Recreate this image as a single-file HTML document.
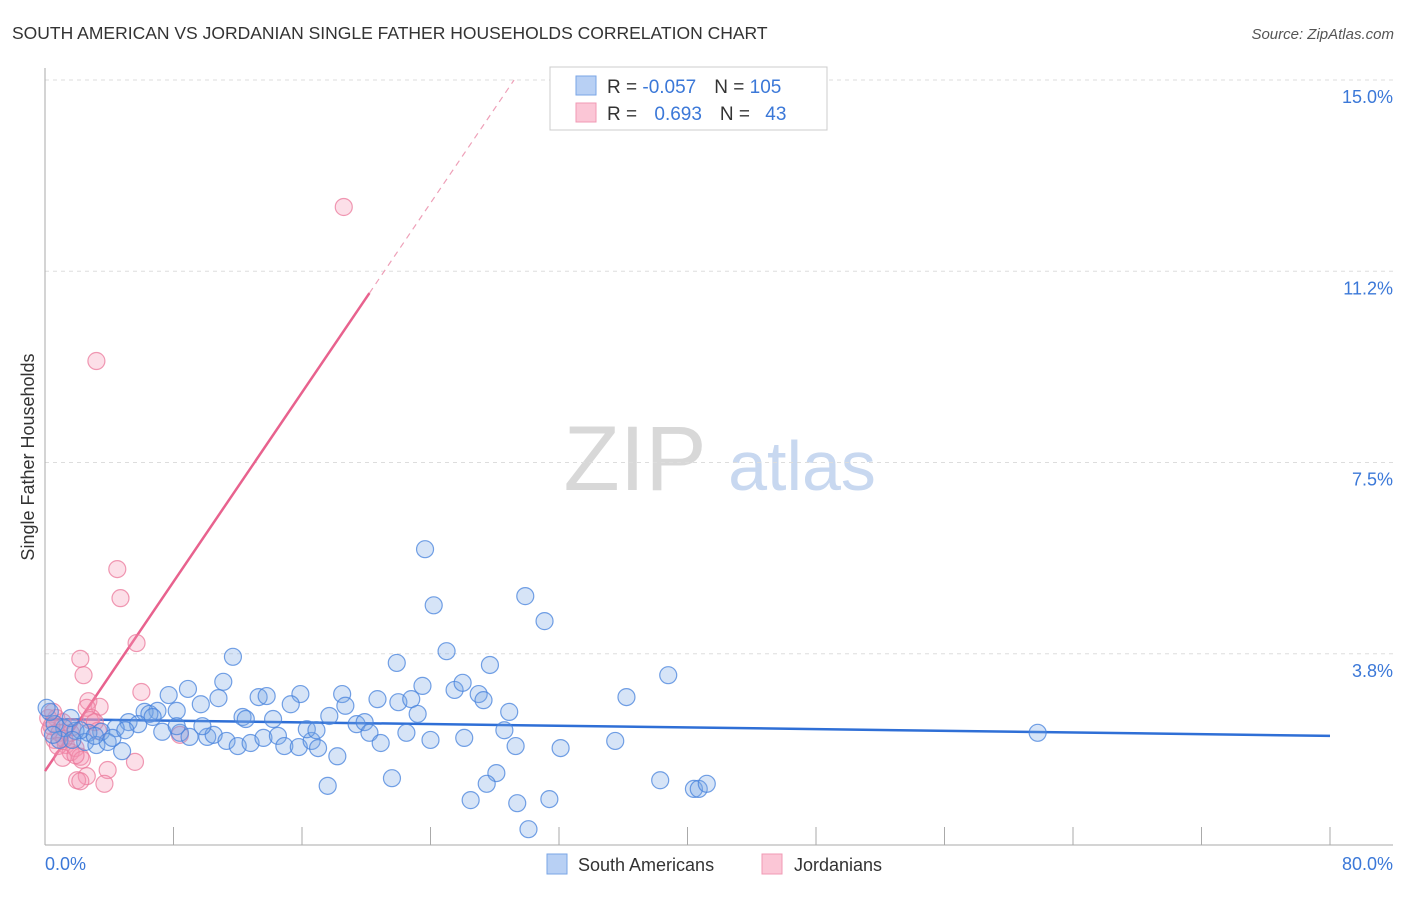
<!DOCTYPE html>
<html><head><meta charset="utf-8"><style>
body{margin:0;background:#fff;font-family:"Liberation Sans",sans-serif;}
svg text{font-family:"Liberation Sans",sans-serif;}
</style></head><body>
<svg id="chart" width="1406" height="892">
<text x="12" y="39" font-size="17.5" fill="#333">SOUTH AMERICAN VS JORDANIAN SINGLE FATHER HOUSEHOLDS CORRELATION CHART</text>
<text x="1394" y="39" font-size="15" fill="#555" font-style="italic" text-anchor="end">Source: ZipAtlas.com</text>
<text x="0" y="0" transform="translate(34,457) rotate(-90)" font-size="18" fill="#333" text-anchor="middle">Single Father Households</text>
<g><text x="635" y="490" font-size="92" fill="#d8d8d8" font-family="Liberation Serif" text-anchor="middle">ZIP</text><text x="802" y="490" font-size="70" fill="#c8d8f0" text-anchor="middle">atlas</text></g>
<g id="grid"></g><g id="axes"></g><g id="lines"></g><g id="pts"></g>
<g>
<rect x="550" y="67" width="277" height="63" fill="#fff" stroke="#ccc"/>
<rect x="576" y="76" width="20" height="19" fill="#b8d0f4" stroke="#7aa6e6"/>
<rect x="576" y="103" width="20" height="19" fill="#fbc6d6" stroke="#f09ab4"/>
<text x="607" y="93" font-size="19" fill="#333">R = <tspan fill="#3b78d8">-0.057</tspan><tspan dx="18">N = </tspan><tspan fill="#3b78d8">105</tspan></text>
<text x="607" y="120" font-size="19" fill="#333">R = <tspan fill="#3b78d8" dx="12">0.693</tspan><tspan dx="18">N = </tspan><tspan fill="#3b78d8" dx="10">43</tspan></text>
</g>
<g>
<rect x="547" y="854" width="20" height="20" fill="#b8d0f4" stroke="#7aa6e6"/>
<text x="578" y="871" font-size="18" fill="#333">South Americans</text>
<rect x="762" y="854" width="20" height="20" fill="#fbc6d6" stroke="#f09ab4"/>
<text x="794" y="871" font-size="18" fill="#333">Jordanians</text>
</g>
</svg>
<script>
const xTicks=[0,8,16,24,32,40,48,56,64,72,80];
const yTicks=[3.75,7.5,11.25,15];
const yTickLabels=["3.8%","7.5%","11.2%","15.0%"];
const blueX=[23.66,24.2,29.9,31.1,25.0,27.7,21.9,38.8,36.2,11.7,8.9,7.7,11.1,13.3,13.8,15.9,18.5,18.7,20.7,22.0,22.8,23.5,25.5,26.0,27.0,27.3,28.9,23.2,15.3,12.3,10.8,9.7,8.2,7.0,6.2,6.5,5.2,5.8,4.4,3.5,2.7,1.9,1.2,0.6,0.3,0.9,2.5,3.2,3.9,4.8,7.3,8.4,9.0,10.1,10.5,11.3,12.0,12.8,13.6,14.5,14.9,15.8,16.6,17.0,18.2,16.3,16.9,17.7,19.4,19.9,20.2,20.9,22.5,24.0,26.1,28.6,29.3,32.1,35.5,61.8,12.5,14.2,21.6,17.6,28.1,27.5,26.5,29.4,31.4,30.1,38.3,40.4,40.7,41.2,0.1,1.6,2.2,3.1,0.5,1.7,4.2,5.0,6.7,8.2,9.8];
const blueY=[5.80,4.70,4.88,4.39,3.80,3.53,3.57,3.33,2.90,3.69,3.06,2.94,3.20,2.90,2.92,2.96,2.96,2.73,2.86,2.80,2.86,3.12,3.04,3.18,2.96,2.84,2.61,2.57,2.76,2.51,2.88,2.76,2.63,2.63,2.61,2.57,2.41,2.37,2.29,2.22,2.20,2.24,2.29,2.37,2.61,2.06,2.02,1.96,2.02,1.84,2.22,2.20,2.12,2.12,2.16,2.04,1.94,2.00,2.10,2.14,1.94,1.92,2.04,1.90,1.74,2.27,2.25,2.53,2.37,2.41,2.20,2.00,2.20,2.06,2.10,2.25,1.94,1.90,2.04,2.20,2.47,2.47,1.31,1.16,1.41,1.20,0.88,0.82,0.90,0.31,1.27,1.10,1.10,1.20,2.69,2.49,2.25,2.14,2.16,2.06,2.10,2.25,2.51,2.33,2.33];
const pinkX=[18.6,3.2,4.5,4.7,5.7,2.2,2.4,6.0,2.7,3.4,2.9,2.6,0.7,1.1,0.3,0.6,1.3,1.9,1.6,2.2,2.3,3.9,2.6,2.0,2.2,3.7,5.6,8.4,0.2,0.4,0.9,1.6,1.2,1.7,2.8,3.3,0.8,1.1,1.9,3.1,0.5];
const pinkY=[12.51,9.49,5.41,4.84,3.96,3.65,3.33,3.00,2.82,2.71,2.49,2.69,2.49,2.41,2.25,2.06,1.96,1.90,1.82,1.73,1.67,1.47,1.35,1.27,1.25,1.20,1.63,2.16,2.49,2.33,2.20,2.20,2.08,2.31,2.45,2.24,1.94,1.71,1.76,2.41,2.61];
const blueFit=[2.47,2.14];
const pinkFit=[1.45,0.464];
const NS="http://www.w3.org/2000/svg";
const X=v=>45+v/80*1285, Y=v=>845-v/15*765;
function mk(p,t,a){const e=document.createElementNS(NS,t);for(const k in a)e.setAttribute(k,a[k]);document.getElementById(p).appendChild(e);return e;}
yTicks.forEach((t,i)=>{let l=mk('grid','line',{x1:45,x2:1393,y1:Y(t),y2:Y(t),stroke:'#ddd','stroke-dasharray':'4,4'});


let tx=mk('grid','text',{x:1393,y:Y(t)+23,'font-size':18,fill:'#3b78d8','text-anchor':'end'});tx.textContent=yTickLabels[i];

});
let ax=mk('axes','line',{x1:45,x2:1393,y1:845,y2:845,stroke:'#aaa'});


let ay=mk('axes','line',{x1:45,x2:45,y1:68,y2:845,stroke:'#aaa'});


xTicks.forEach(t=>{let l=mk('axes','line',{x1:X(t),x2:X(t),y1:827,y2:845,stroke:'#aaa'});

});
let x0=mk('axes','text',{x:45,y:870,'font-size':18,fill:'#3b78d8'});x0.textContent='0.0%';


let x1=mk('axes','text',{x:1393,y:870,'font-size':18,fill:'#3b78d8','text-anchor':'end'});x1.textContent='80.0%';


function dots(xs,ys,fill,stroke,name){xs.forEach((x,i)=>{let c=mk('pts','circle',{cx:X(x),cy:Y(ys[i]),r:8.5,fill:fill,stroke:stroke,'stroke-width':1.2});

});}
dots(pinkX,pinkY,'rgba(245,150,180,0.3)','rgba(235,120,155,0.75)','jordanian-point');
dots(blueX,blueY,'rgba(120,165,230,0.3)','rgba(70,130,220,0.75)','south-american-point');
let bl=mk('lines','line',{x1:X(0),y1:Y(blueFit[0]),x2:X(80),y2:Y(blueFit[1]),stroke:'#2f6fd6','stroke-width':2.5});


const pe=20.2, pmax=(15-pinkFit[0])/pinkFit[1];
let pl=mk('lines','line',{x1:X(0),y1:Y(pinkFit[0]),x2:X(pe),y2:Y(pinkFit[0]+pinkFit[1]*pe),stroke:'#e8628e','stroke-width':2.5});


let pd=mk('lines','line',{x1:X(pe),y1:Y(pinkFit[0]+pinkFit[1]*pe),x2:X(pmax),y2:Y(15),stroke:'#eea0b8','stroke-width':1.2,'stroke-dasharray':'6,5'});


</script>
</body></html>
